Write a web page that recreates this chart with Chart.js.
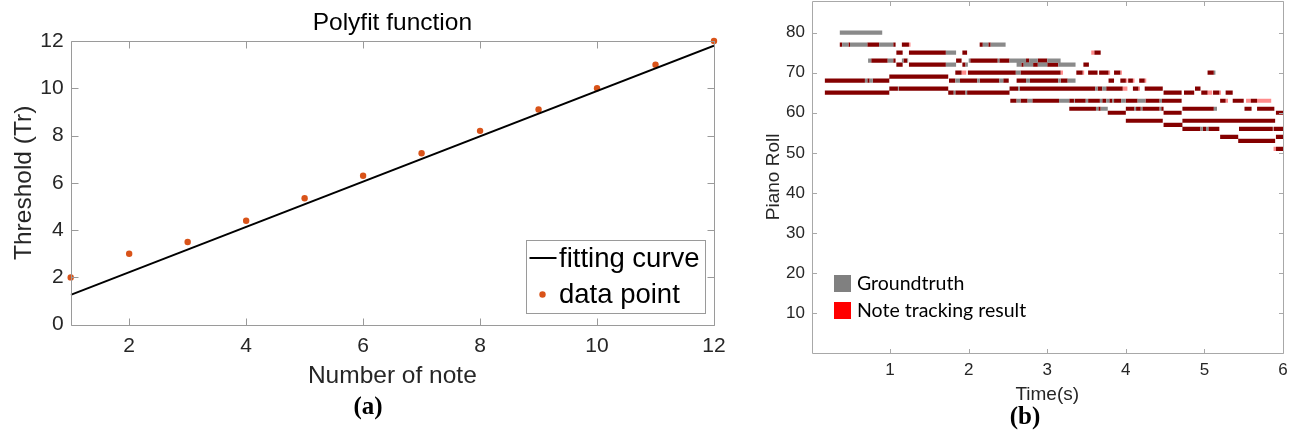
<!DOCTYPE html>
<html>
<head>
<meta charset="utf-8">
<script src="https://cdn.jsdelivr.net/npm/chart.js@4.4.1/dist/chart.umd.min.js"></script>
<style>
  html, body { margin: 0; padding: 0; background: #fff; }
  #wrap { position: relative; width: 1292px; height: 434px; overflow: hidden; }
  #leftBox { position: absolute; left: 0; top: 0; width: 740px; height: 434px; }
  #rightBox { position: absolute; left: 740px; top: 0; width: 552px; height: 434px; }
</style>
</head>
<body>
<div id="wrap">
  <div id="leftBox"><canvas id="fitChart"></canvas></div>
  <div id="rightBox"><canvas id="rollChart"></canvas></div>
</div>
<script>
// ---- (a) Polyfit function ----
const noteCount = [1, 2, 3, 4, 5, 6, 7, 8, 9, 10, 11, 12];
const thresholds = [2, 3, 3.5, 4.4, 5.35, 6.3, 7.25, 8.2, 9.1, 10, 11, 12];
const fitX = [1, 12];
const fitY = [1.26, 11.8];
const fitTicksX = [2, 4, 6, 8, 10, 12];
const fitTicksY = [0, 2, 4, 6, 8, 10, 12];
const fitLegendNames = ['fitting curve', 'data point'];

// ---- (b) Piano roll, notes as [pitch, onset (s), offset (s)] ----
// groundtruth notes that were not tracked (gray)
const missedNotes = [
  [80, 0.36, 0.90],
  [77, 0.39, 0.47], [77, 0.49, 0.71], [77, 0.86, 1.04], [77, 2.18, 2.25], [77, 2.28, 2.47],
  [75, 1.71, 1.84], [75, 1.98, 1.99],
  [73, 0.72, 0.76], [73, 0.97, 1.04], [73, 1.15, 1.17], [73, 1.22, 1.23], [73, 2.00, 2.02],
  [73, 2.37, 2.39], [73, 2.52, 2.73], [73, 2.77, 2.88], [73, 3.00, 3.17],
  [72, 1.71, 1.84], [72, 1.96, 1.99], [72, 2.61, 2.67], [72, 2.70, 2.82], [72, 2.88, 3.00], [72, 3.14, 3.36],
  [70, 2.60, 2.66], [70, 5.12, 5.14],
  [68, 0.68, 0.71], [68, 0.74, 0.78], [68, 1.83, 1.89], [68, 2.11, 2.14], [68, 2.39, 2.44],
  [68, 2.73, 2.78], [68, 3.14, 3.17], [68, 3.26, 3.36],
  [66, 1.10, 1.11], [66, 2.63, 2.65], [66, 3.61, 3.64], [66, 3.70, 3.75],
  [65, 1.81, 1.83], [65, 1.96, 1.98],
  [63, 2.61, 2.66], [63, 2.75, 2.81], [63, 3.15, 3.28], [63, 3.34, 3.35], [63, 3.49, 3.52],
  [63, 3.67, 3.70], [63, 3.75, 3.79], [63, 3.83, 3.85], [63, 3.94, 4.00], [63, 4.15, 4.25], [63, 4.43, 4.46],
  [61, 3.62, 3.65], [61, 3.68, 3.77], [61, 4.11, 4.13], [61, 4.19, 4.21], [61, 4.43, 4.45], [61, 5.12, 5.16],
  [56, 4.95, 4.98], [56, 5.02, 5.05]
];
// tracked notes that match the groundtruth (dark red)
const matchedNotes = [
  [77, 0.36, 0.39], [77, 0.47, 0.49], [77, 0.71, 0.86], [77, 1.04, 1.07], [77, 1.15, 1.24], [77, 2.14, 2.18], [77, 2.25, 2.28],
  [75, 1.08, 1.16], [75, 1.24, 1.71], [75, 1.92, 1.98], [75, 3.60, 3.68],
  [73, 0.76, 0.97], [73, 1.04, 1.07], [73, 1.17, 1.22], [73, 1.84, 1.91], [73, 2.02, 2.37], [73, 2.39, 2.52],
  [73, 2.73, 2.77], [73, 2.88, 3.00],
  [72, 1.08, 1.16], [72, 1.24, 1.71], [72, 1.92, 1.96], [72, 2.67, 2.70], [72, 2.82, 2.88], [72, 3.00, 3.14], [72, 3.46, 3.53],
  [70, 1.83, 1.91], [70, 1.99, 2.60], [70, 2.66, 3.17], [70, 3.37, 3.45], [70, 3.52, 3.64], [70, 3.66, 3.78],
  [70, 3.85, 3.93], [70, 5.04, 5.12],
  [69, 0.99, 1.74],
  [68, 0.17, 0.68], [68, 0.71, 0.74], [68, 0.78, 0.99], [68, 1.75, 1.83], [68, 1.89, 2.11], [68, 2.14, 2.39],
  [68, 2.44, 2.51], [68, 2.61, 2.73], [68, 2.78, 3.14], [68, 3.17, 3.26], [68, 3.78, 3.85], [68, 3.93, 4.00],
  [68, 4.03, 4.09], [68, 4.17, 4.24],
  [66, 0.99, 1.10], [66, 1.11, 1.74], [66, 2.52, 2.63], [66, 2.65, 3.61], [66, 3.64, 3.70], [66, 3.75, 3.96],
  [66, 4.09, 4.16], [66, 4.24, 4.47], [66, 4.88, 4.95],
  [65, 0.17, 0.99], [65, 1.74, 1.81], [65, 1.83, 1.96], [65, 1.98, 2.52], [65, 4.48, 4.71], [65, 4.74, 4.87],
  [65, 4.96, 5.04], [65, 5.11, 5.19], [65, 5.27, 5.36],
  [63, 2.53, 2.61], [63, 2.66, 2.75], [63, 2.81, 3.15], [63, 3.28, 3.34], [63, 3.35, 3.49], [63, 3.52, 3.67],
  [63, 3.70, 3.75], [63, 3.79, 3.83], [63, 3.85, 3.94], [63, 4.00, 4.15], [63, 4.25, 4.43], [63, 4.46, 4.71],
  [63, 5.20, 5.27], [63, 5.36, 5.50], [63, 5.59, 5.67],
  [61, 3.28, 3.62], [61, 3.65, 3.68], [61, 4.00, 4.11], [61, 4.13, 4.19], [61, 4.21, 4.43], [61, 4.45, 4.48],
  [61, 4.72, 5.12], [61, 5.51, 5.60], [61, 5.67, 5.89],
  [60, 3.77, 4.00], [60, 4.48, 4.71], [60, 5.91, 6.00],
  [58, 4.00, 4.47], [58, 4.72, 5.90],
  [57, 4.48, 4.72],
  [56, 4.72, 4.95], [56, 4.98, 5.02], [56, 5.05, 5.19], [56, 5.44, 5.87], [56, 5.88, 6.00],
  [54, 5.20, 5.43], [54, 5.91, 6.00],
  [53, 5.43, 5.90],
  [51, 5.91, 6.00]
];
// tracked notes with no groundtruth under them (light red)
const extraNotes = [
  [77, 1.24, 1.26], [75, 3.56, 3.60], [70, 1.91, 1.97], [70, 3.17, 3.20], [70, 3.45, 3.47], [70, 3.78, 3.80],
  [70, 3.93, 3.95], [68, 4.00, 4.02], [68, 4.09, 4.11], [68, 4.24, 4.26], [66, 3.96, 4.02], [66, 4.16, 4.18],
  [65, 5.04, 5.10], [65, 5.19, 5.21], [63, 5.27, 5.30], [63, 5.53, 5.59], [63, 5.67, 5.85], [51, 5.88, 5.91]
];
const rollTicksX = [1, 2, 3, 4, 5, 6];
const rollTicksY = [10, 20, 30, 40, 50, 60, 70, 80];
const rollLegendNames = ['Groundtruth', 'Note tracking result'];

Chart.defaults.font.family = "'Liberation Sans', Arial, sans-serif";
Chart.defaults.color = '#262626';
Chart.defaults.animation = false;

// box round the plot with ticks pointing inwards, like MATLAB axes
const matlabBox = {
  id: 'matlabBox',
  afterDatasetsDraw(chart, args, opts) {
    const { ctx, chartArea: a, scales } = chart;
    const len = opts.tickLen;
    const L = Math.round(a.left) + 0.5, R = Math.round(a.right) + 0.5;
    const T = Math.round(a.top) + 0.5, B = Math.round(a.bottom) + 0.5;
    ctx.save();
    ctx.strokeStyle = opts.color;
    ctx.lineWidth = 1;
    ctx.beginPath();
    ctx.rect(L, T, R - L, B - T);
    scales.x.ticks.forEach(t => {
      const px = Math.round(scales.x.getPixelForValue(t.value)) + 0.5;
      ctx.moveTo(px, B); ctx.lineTo(px, B - len);
      ctx.moveTo(px, T); ctx.lineTo(px, T + len);
    });
    scales.y.ticks.forEach(t => {
      const py = Math.round(scales.y.getPixelForValue(t.value)) + 0.5;
      ctx.moveTo(L, py); ctx.lineTo(L + len, py);
      ctx.moveTo(R, py); ctx.lineTo(R - len, py);
    });
    ctx.stroke();
    ctx.restore();
  }
};

// caption under a panel, (a) / (b)
const caption = {
  id: 'caption',
  afterDraw(chart, args, opts) {
    const ctx = chart.ctx;
    ctx.save();
    ctx.font = 'bold 25px "Liberation Serif", "Times New Roman", serif';
    ctx.fillStyle = '#000';
    ctx.textAlign = 'center';
    ctx.textBaseline = 'middle';
    ctx.fillText(opts.text, opts.x, opts.y);
    ctx.restore();
  }
};

const fitLegend = {
  id: 'fitLegend',
  afterDraw(chart) {
    const { ctx, chartArea: a } = chart;
    const w = 179, h = 73;
    const left = Math.round(a.right - 9 - w), top = Math.round(a.bottom - 11.5 - h);
    ctx.save();
    ctx.fillStyle = '#fff';
    ctx.fillRect(left, top, w, h);
    ctx.strokeStyle = '#9a9a9a';
    ctx.lineWidth = 1;
    ctx.strokeRect(left + 0.5, top + 0.5, w, h);
    ctx.strokeStyle = '#000';
    ctx.lineWidth = 2;
    ctx.beginPath();
    ctx.moveTo(left + 3.5, top + 18);
    ctx.lineTo(left + 30.5, top + 18);
    ctx.stroke();
    ctx.fillStyle = '#d95319';
    ctx.beginPath();
    ctx.arc(left + 16.5, top + 54.5, 3.2, 0, Math.PI * 2);
    ctx.fill();
    ctx.fillStyle = '#000';
    ctx.font = "27.5px 'Liberation Sans', Arial, sans-serif";
    ctx.textBaseline = 'middle';
    ctx.fillText(fitLegendNames[0], left + 33, top + 19.5);
    ctx.fillText(fitLegendNames[1], left + 33, top + 55);
    ctx.restore();
  }
};

const rollLegend = {
  id: 'rollLegend',
  afterDraw(chart) {
    const { ctx, chartArea: a } = chart;
    const x = a.left + 22.5;
    ctx.save();
    ctx.fillStyle = '#808080';
    ctx.fillRect(x, 275, 17, 17);
    ctx.fillStyle = '#ff0000';
    ctx.fillRect(x, 302, 17, 17);
    ctx.fillStyle = '#000';
    ctx.font = "19.5px Lato, 'Open Sans', sans-serif";
    ctx.textBaseline = 'middle';
    ctx.fillText(rollLegendNames[0], x + 23, 284);
    ctx.fillText(rollLegendNames[1], x + 23, 310.5);
    ctx.restore();
  }
};

function noPad(s) {
  s.paddingTop = 0; s.paddingBottom = 0; s.paddingLeft = 0; s.paddingRight = 0;
}

// ---------- chart (a) ----------
new Chart(document.getElementById('fitChart'), {
  type: 'line',
  data: {
    datasets: [{
      label: fitLegendNames[0],
      data: fitX.map((x, i) => ({ x: x, y: fitY[i] })),
      borderColor: '#000',
      borderWidth: 2,
      pointRadius: 0,
      tension: 0
    }, {
      type: 'scatter',
      label: fitLegendNames[1],
      data: noteCount.map((n, i) => ({ x: n, y: thresholds[i] })),
      backgroundColor: '#d95319',
      borderColor: '#d95319',
      pointRadius: 3.2,
      borderWidth: 0,
      showLine: false,
      clip: false
    }]
  },
  options: {
    responsive: true,
    maintainAspectRatio: false,
    layout: { padding: { top: 0, left: 0, right: 26, bottom: 0 } },
    plugins: {
      legend: { display: false },
      tooltip: { enabled: false },
      title: {
        display: true,
        fullSize: false,
        text: 'Polyfit function',
        color: '#000',
        font: { size: 24.5, weight: 'normal' },
        padding: { top: 8.8, bottom: 2.8 }
      },
      matlabBox: { color: '#9a9a9a', tickLen: 7 },
      caption: { text: '(a)', x: 368, y: 407.5 }
    },
    scales: {
      x: {
        type: 'linear',
        min: 1, max: 12,
        afterBuildTicks: s => { s.ticks = fitTicksX.map(v => ({ value: v })); },
        afterFit: s => { s.height = 109.3; noPad(s); },
        grid: { display: false, drawTicks: false },
        border: { display: false },
        ticks: { font: { size: 21 }, padding: 9, maxRotation: 0 },
        title: { display: true, text: 'Number of note', font: { size: 24.5 }, color: '#262626', padding: { top: 0, bottom: 43.5 } }
      },
      y: {
        min: 0, max: 12,
        afterBuildTicks: s => { s.ticks = fitTicksY.map(v => ({ value: v })); },
        afterFit: s => { s.width = 70.7; noPad(s); },
        grid: { display: false, drawTicks: false },
        border: { display: false },
        ticks: { font: { size: 21 }, padding: 7 },
        title: { display: true, text: 'Threshold (Tr)', font: { size: 24.5 }, color: '#262626', padding: { top: 9.5, bottom: 0 } }
      }
    }
  },
  plugins: [matlabBox, fitLegend, caption]
});

// ---------- chart (b) ----------
function toSegments(notes) {
  const pts = [];
  notes.forEach(([p, on, off]) => {
    pts.push({ x: on, y: p }, { x: off, y: p }, { x: off, y: null });
  });
  return pts;
}
function rollSet(label, notes, color) {
  return {
    label: label,
    data: toSegments(notes),
    borderColor: color,
    borderWidth: 4.2,
    borderCapStyle: 'butt',
    pointRadius: 0,
    spanGaps: false,
    tension: 0
  };
}

new Chart(document.getElementById('rollChart'), {
  type: 'line',
  data: {
    datasets: [
      rollSet('Groundtruth', missedNotes, '#8a8a8a'),
      rollSet('Note tracking result', matchedNotes, '#840000'),
      rollSet('Note tracking result (extra)', extraNotes, '#ff8c8c')
    ]
  },
  options: {
    responsive: true,
    maintainAspectRatio: false,
    layout: { padding: { top: 0.5, left: 0, right: 9, bottom: 0 } },
    plugins: {
      legend: { display: false },
      tooltip: { enabled: false },
      matlabBox: { color: '#a8a8a8', tickLen: 4.5 },
      caption: { text: '(b)', x: 1025 - 740, y: 418 }
    },
    scales: {
      x: {
        type: 'linear',
        min: 0, max: 6,
        afterBuildTicks: s => { s.ticks = rollTicksX.map(v => ({ value: v })); },
        afterFit: s => { s.height = 80.7; noPad(s); },
        grid: { display: false, drawTicks: false },
        border: { display: false },
        ticks: { font: { size: 17 }, padding: 7, maxRotation: 0 },
        title: { display: true, text: 'Time(s)', font: { size: 19 }, color: '#262626', padding: { top: 0, bottom: 28 } }
      },
      y: {
        type: 'linear',
        min: 0, max: 88,
        afterBuildTicks: s => { s.ticks = rollTicksY.map(v => ({ value: v })); },
        afterFit: s => { s.width = 71.5; noPad(s); },
        grid: { display: false, drawTicks: false },
        border: { display: false },
        ticks: { font: { size: 17 }, padding: 6.5 },
        title: { display: true, text: 'Piano Roll', font: { size: 19 }, color: '#262626', padding: { top: 22, bottom: 0 } }
      }
    }
  },
  plugins: [matlabBox, rollLegend, caption]
});
</script>
</body>
</html>
